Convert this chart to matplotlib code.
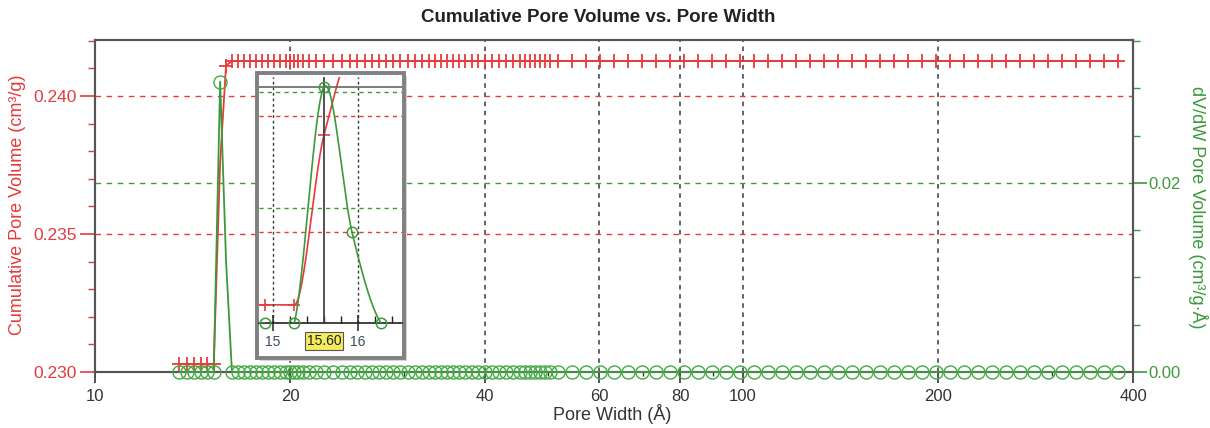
import numpy as np
import matplotlib
matplotlib.use("Agg")
import matplotlib.pyplot as plt
from matplotlib.patches import Rectangle
from matplotlib.ticker import MultipleLocator, FixedLocator, NullFormatter
import matplotlib.transforms as mtransforms

plt.rcParams["font.family"] = ["Liberation Sans", "DejaVu Sans"]

# ---- data -------------------------------------------------------------
pore_width = [
    13.50, 13.85, 14.20, 14.55, 14.90, 15.25, 15.60, 15.93, 16.27, 16.63,
    16.98, 17.35, 17.72, 18.10, 18.49, 18.89, 19.30, 19.72, 20.00, 20.28,
    20.57, 20.94, 21.39, 21.93, 22.56, 23.30, 24.06, 24.75, 25.37, 26.10,
    26.76, 27.44, 28.13, 28.84, 29.56, 30.41, 31.17, 31.96, 32.76, 33.47,
    34.20, 34.93, 35.69, 36.45, 37.24, 38.18, 38.99, 39.98, 40.99, 42.02,
    43.08, 44.17, 45.29, 46.10, 46.92, 47.75, 48.61, 49.47, 50.37, 51.80,
    54.40, 57.20, 60.10, 63.20, 66.40, 69.80, 73.40, 77.10, 81.00, 85.20,
    89.50, 94.10, 98.90, 103.9, 109.2, 114.8, 120.7, 126.8, 133.3, 140.1,
    147.2, 154.7, 162.6, 170.9, 179.6, 188.8, 198.4, 208.5, 219.2, 230.3,
    242.1, 254.4, 267.4, 281.0, 295.4, 310.4, 326.3, 342.9, 360.4, 378.8,
]

cumulative_volume = [
    0.23028, 0.23028, 0.23028, 0.23028, 0.23028, 0.23028, 0.23760, 0.24110, 0.24127, 0.24127,
    0.24127, 0.24127, 0.24127, 0.24127, 0.24127, 0.24127, 0.24127, 0.24127, 0.24127, 0.24127,
    0.24127, 0.24127, 0.24127, 0.24127, 0.24127, 0.24127, 0.24127, 0.24127, 0.24127, 0.24127,
    0.24127, 0.24127, 0.24127, 0.24127, 0.24127, 0.24127, 0.24127, 0.24127, 0.24127, 0.24127,
    0.24127, 0.24127, 0.24127, 0.24127, 0.24127, 0.24127, 0.24127, 0.24127, 0.24127, 0.24127,
    0.24127, 0.24127, 0.24127, 0.24127, 0.24127, 0.24127, 0.24127, 0.24127, 0.24127, 0.24127,
    0.24127, 0.24127, 0.24127, 0.24127, 0.24127, 0.24127, 0.24127, 0.24127, 0.24127, 0.24127,
    0.24127, 0.24127, 0.24127, 0.24127, 0.24127, 0.24127, 0.24127, 0.24127, 0.24127, 0.24127,
    0.24127, 0.24127, 0.24127, 0.24127, 0.24127, 0.24127, 0.24127, 0.24127, 0.24127, 0.24127,
    0.24127, 0.24127, 0.24127, 0.24127, 0.24127, 0.24127, 0.24127, 0.24127, 0.24127, 0.24127,
]

dv_dw = [
    0.0, 0.0, 0.0, 0.0, 0.0, 0.0, 0.0307, 0.0118, 0.0, 0.0,
    0.0, 0.0, 0.0, 0.0, 0.0, 0.0, 0.0, 0.0, 0.0, 0.0,
    0.0, 0.0, 0.0, 0.0, 0.0, 0.0, 0.0, 0.0, 0.0, 0.0,
    0.0, 0.0, 0.0, 0.0, 0.0, 0.0, 0.0, 0.0, 0.0, 0.0,
    0.0, 0.0, 0.0, 0.0, 0.0, 0.0, 0.0, 0.0, 0.0, 0.0,
    0.0, 0.0, 0.0, 0.0, 0.0, 0.0, 0.0, 0.0, 0.0, 0.0,
    0.0, 0.0, 0.0, 0.0, 0.0, 0.0, 0.0, 0.0, 0.0, 0.0,
    0.0, 0.0, 0.0, 0.0, 0.0, 0.0, 0.0, 0.0, 0.0, 0.0,
    0.0, 0.0, 0.0, 0.0, 0.0, 0.0, 0.0, 0.0, 0.0, 0.0,
    0.0, 0.0, 0.0, 0.0, 0.0, 0.0, 0.0, 0.0, 0.0, 0.0,
]

x_ticks = [10, 20, 40, 60, 80, 100, 200, 400]
x_tick_labels = ["10", "20", "40", "60", "80", "100", "200", "400"]
left_ticks = [0.230, 0.235, 0.240]
left_tick_labels = ["0.230", "0.235", "0.240"]
right_ticks = [0.00, 0.02]
right_tick_labels = ["0.00", "0.02"]
cursor_width = 15.60

RED = "#e8393d"
GREEN = "#3a9a3a"
DARK = "#333333"
SPINE = "#555555"


# ---- smooth curves for the magnified view -------------------------------
def hermite(x, y, d, xs):
    x = np.asarray(x, float)
    y = np.asarray(y, float)
    h = np.diff(x)
    i = np.clip(np.searchsorted(x, xs) - 1, 0, len(x) - 2)
    t = (xs - x[i]) / h[i]
    h00 = 2 * t**3 - 3 * t**2 + 1
    h10 = t**3 - 2 * t**2 + t
    h01 = -2 * t**3 + 3 * t**2
    h11 = t**3 - t**2
    return h00 * y[i] + h10 * h[i] * d[i] + h01 * y[i + 1] + h11 * h[i] * d[i + 1]


def pchip_slopes(x, y):
    x = np.asarray(x, float)
    y = np.asarray(y, float)
    h = np.diff(x)
    delta = np.diff(y) / h
    d = np.zeros_like(y)
    for k in range(1, len(x) - 1):
        if delta[k - 1] * delta[k] > 0:
            w1 = 2 * h[k] + h[k - 1]
            w2 = h[k] + 2 * h[k - 1]
            d[k] = (w1 + w2) / (w1 / delta[k - 1] + w2 / delta[k])
    return d


def catmull_slopes(x, y):
    x = np.asarray(x, float)
    y = np.asarray(y, float)
    d = np.zeros_like(y)
    d[1:-1] = (y[2:] - y[:-2]) / (x[2:] - x[:-2])
    return d


# ---- figure -------------------------------------------------------------
W, H = 1210, 428
fig = plt.figure(figsize=(W / 100, H / 100), dpi=100)


def fx(px):
    return px / W


def fy(py):
    return 1 - py / H


ax = fig.add_axes([fx(95), fy(372), fx(1133) - fx(95), fy(40) - fy(372)])
ax2 = ax.twinx()

ax.set_xscale("log")
ax.set_xlim(10, 400)
ax.set_ylim(0.230, 0.24203)
ax2.set_ylim(0.0, 0.0351)

# grid lines
ax.grid(axis="x", which="major", color="#3a3a3a", linestyle=(0, (3, 3)), linewidth=1.1)
ax.grid(axis="y", which="major", color=RED, linestyle=(0, (4, 4)), linewidth=1.0)
ax2.grid(axis="y", which="major", color=GREEN, linestyle=(0, (4, 4)), linewidth=1.0)
ax.set_axisbelow(True)

# in the overview, markers are left off the points on the steep flanks
v_lo, v_hi = min(cumulative_volume), max(cumulative_volume)
red_marked = [i for i, v in enumerate(cumulative_volume)
              if v < v_lo + 0.001 or v > v_hi - 0.001]
g_peak = max(dv_dw)
green_marked = [i for i, v in enumerate(dv_dw) if v == 0 or v == g_peak]

ax.plot(pore_width, cumulative_volume, color=RED, linewidth=1.3, marker="+",
        markersize=10, markeredgewidth=1.3, markevery=red_marked, zorder=3)
ax2.plot(pore_width, dv_dw, color=GREEN, linewidth=1.3, marker="o",
         markersize=9.4, markerfacecolor="none", markeredgecolor="#45a845",
         markeredgewidth=1.0, markevery=green_marked, clip_on=False, zorder=3)

# x axis
ax.set_xticks(x_ticks)
ax.set_xticklabels(x_tick_labels)
ax.xaxis.set_minor_locator(FixedLocator([30, 50, 70, 90, 300]))
ax.xaxis.set_minor_formatter(NullFormatter())
ax.tick_params(axis="x", which="major", direction="out", length=8, width=1.2,
               color=DARK, labelcolor=DARK, labelsize=12, pad=4)
ax.tick_params(axis="x", which="minor", direction="out", length=3, width=1.0, color=DARK)

# left axis
ax.set_yticks(left_ticks)
ax.set_yticklabels(left_tick_labels)
ax.yaxis.set_minor_locator(MultipleLocator(0.001))
ax.tick_params(axis="y", which="major", direction="out", length=11, width=1.2,
               color=RED, labelcolor=RED, labelsize=12.5, pad=2)
ax.tick_params(axis="y", which="minor", direction="out", length=5, width=1.0, color=RED)

# right axis
ax2.set_yticks(right_ticks)
ax2.set_yticklabels(right_tick_labels)
ax2.yaxis.set_minor_locator(MultipleLocator(0.005))
ax2.tick_params(axis="y", which="major", direction="out", length=10, width=1.2,
                color=GREEN, labelcolor=GREEN, labelsize=12, pad=1)
ax2.tick_params(axis="y", which="minor", direction="out", length=5, width=1.0, color=GREEN)

for a in (ax, ax2):
    for s in a.spines.values():
        s.set_color(SPINE)
        s.set_linewidth(1.5)

# titles and labels
fig.text(fx(598), fy(18), "Cumulative Pore Volume vs. Pore Width", ha="center",
         va="center", fontsize=13.5, fontweight="bold", color="#222222")
fig.text(fx(612), fy(414), "Pore Width (Å)", ha="center", va="center",
         fontsize=13, color=DARK)
fig.text(fx(18), fy(205), "Cumulative Pore Volume (cm³/g)", ha="center",
         va="center", rotation=90, fontsize=13, color=RED)
fig.text(fx(1198), fy(207), "dV/dW Pore Volume (cm³/g·Å)", ha="center",
         va="center", rotation=-90, fontsize=13, color=GREEN)

# ---- magnified view around the peak -----------------------------------
shadow = Rectangle((fx(260), fy(361)), fx(147), fy(73) - fy(358),
                   transform=fig.transFigure, facecolor="#d4d4d4",
                   edgecolor="none", zorder=1)
box = Rectangle((fx(257), fy(358)), fx(147), fy(73) - fy(358),
                transform=fig.transFigure, facecolor="white",
                edgecolor="#808080", linewidth=2.8, zorder=1.1)
fig.patches.extend([shadow, box])

axin = fig.add_axes([fx(259), fy(323), fx(402) - fx(259), fy(77) - fy(323)])
axin.set_zorder(3)
axin.patch.set_alpha(0)
axin_r = axin.twinx()
axin_r.set_zorder(2.5)

g_top = 0.0320
r_bot, r_top = 0.2295, 0.2401
x_lo, x_hi = 14.835, 16.518
axin.set_xlim(x_lo, x_hi)
axin.set_ylim(0, g_top)
axin_r.set_ylim(r_bot, r_top)

# gridlines inside the magnified view
for xv in (15, 16):
    axin.axvline(xv, color="#3a3a3a", linestyle=(0, (2, 2)), linewidth=1.0, zorder=1)
for gv in (0.015, 0.030):
    axin.axhline(gv, color=GREEN, linestyle=(0, (3, 3)), linewidth=1.0, zorder=1)
for frac in (0.37, 0.84):
    axin_r.axhline(r_bot + frac * (r_top - r_bot), color=RED,
                   linestyle=(0, (3, 3)), linewidth=1.0, zorder=1)

pw = np.asarray(pore_width)
xs = np.linspace(14.5, 16.8, 600)
red_curve = hermite(pw, cumulative_volume, pchip_slopes(pw, cumulative_volume), xs)
green_curve = hermite(pw, dv_dw, catmull_slopes(pw, dv_dw), xs)

in_view = [i for i, w in enumerate(pore_width) if x_lo <= w <= x_hi]
w_in = [pore_width[i] for i in in_view]
v_in = [cumulative_volume[i] for i in in_view]
g_in = [dv_dw[i] for i in in_view]

axin_r.plot(xs, red_curve, color=RED, linewidth=1.2, zorder=3)
axin_r.plot(w_in, v_in, linestyle="none", marker="+",
            markersize=9, markeredgewidth=1.2, color=RED, zorder=3)

# cursor at the peak
axin.axvline(cursor_width, color="#444444", linewidth=1.3, zorder=2)
axin.axhline(g_peak, color="#666666", linewidth=1.2, zorder=2)

axin.plot(xs, green_curve, color=GREEN, linewidth=1.2, zorder=4)
axin.plot(w_in, g_in, linestyle="none", marker="o", markersize=7.5,
          markerfacecolor="none", markeredgecolor="#3c9c3c",
          markeredgewidth=1.1, clip_on=False, zorder=5)

axin.set_xticks([15, 16])
axin.set_xticklabels(["15", "16"])
axin.xaxis.set_minor_locator(FixedLocator([15.2, 15.4, 15.6, 15.8, 16.2, 16.4]))
axin.tick_params(axis="x", which="major", direction="inout", length=12, width=1.1,
                 color="#222222", labelcolor="#3b4b5e", labelsize=10, pad=3)
axin.tick_params(axis="x", which="minor", direction="in", length=5, width=1.0,
                 color="#222222")
axin.set_yticks([])
axin_r.set_yticks([])
for a in (axin, axin_r):
    for side in ("left", "right", "top", "bottom"):
        a.spines[side].set_visible(False)
axin.spines["bottom"].set_visible(True)
axin.spines["bottom"].set_color("#222222")
axin.spines["bottom"].set_linewidth(1.2)

trans = mtransforms.blended_transform_factory(axin.transData, axin.transAxes)
axin.text(cursor_width, -0.072, f"{cursor_width:.2f}", transform=trans,
          ha="center", va="center", fontsize=10, color="#222222", zorder=6,
          bbox=dict(boxstyle="square,pad=0.15", facecolor="#f4ec5c",
                    edgecolor="#555555", linewidth=0.8))

fig.savefig("out.png", dpi=100)
